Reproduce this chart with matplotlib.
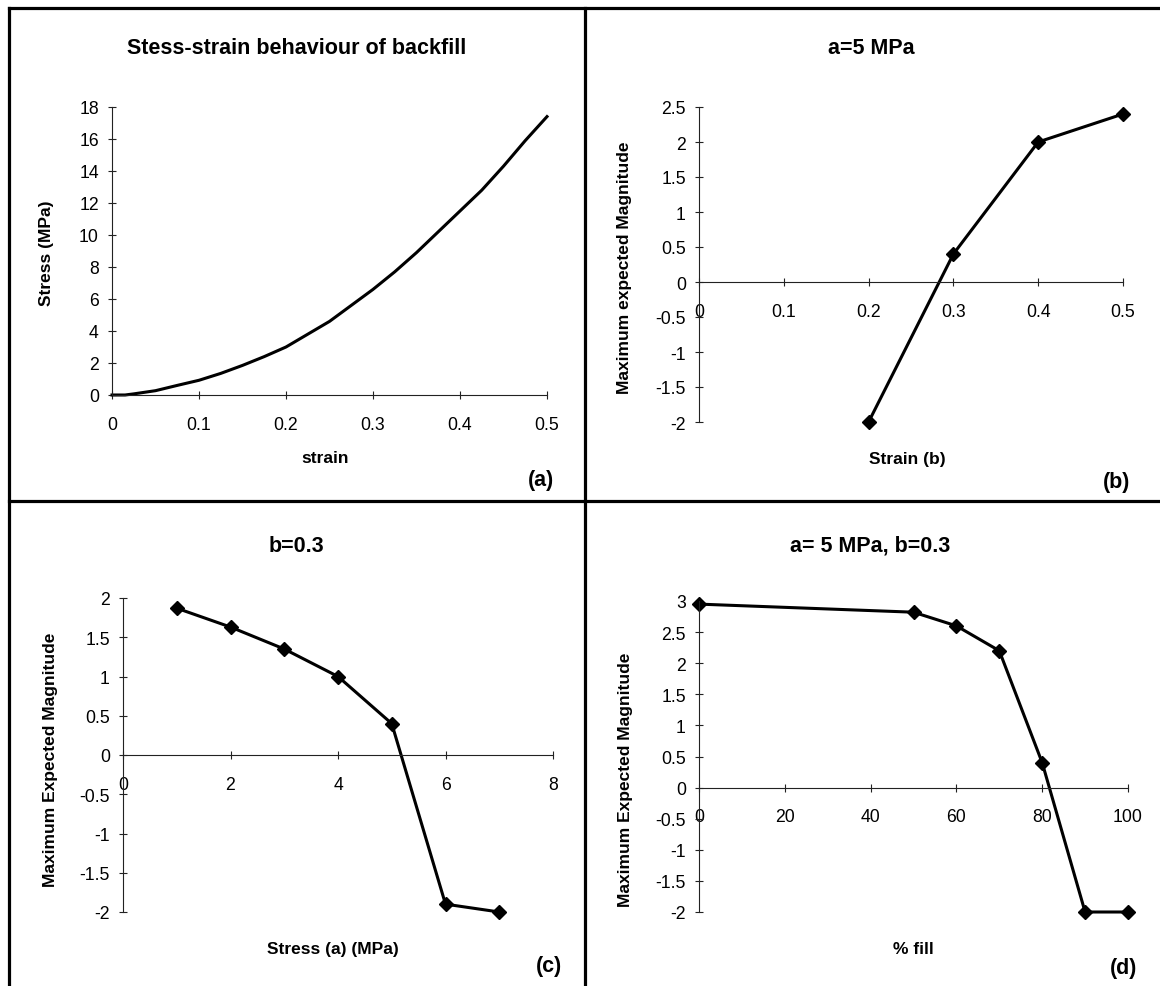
import matplotlib.pyplot as plt
from matplotlib.lines import Line2D
from matplotlib.ticker import MultipleLocator, FuncFormatter

plt.rcParams['font.family'] = ['Liberation Sans', 'DejaVu Sans']
plt.rcParams['axes.unicode_minus'] = False

W, H = 1160, 987

# (a) stress-strain curve of the backfill
strain = [0, 0.015, 0.025, 0.05, 0.075, 0.1, 0.125, 0.15, 0.175, 0.2, 0.225, 0.25,
          0.275, 0.3, 0.325, 0.35, 0.375, 0.4, 0.425, 0.45, 0.475, 0.5]
stress = [0, 0.0, 0.07, 0.27, 0.6, 0.92, 1.35, 1.85, 2.4, 3.0, 3.8, 4.6,
          5.6, 6.6, 7.7, 8.9, 10.2, 11.5, 12.8, 14.3, 15.9, 17.4]

# (b) a = 5 MPa
b_strain = [0.2, 0.3, 0.4, 0.5]
b_mag = [-2.0, 0.4, 2.0, 2.4]

# (c) b = 0.3
c_stress = [1, 2, 3, 4, 5, 6, 7]
c_mag = [1.87, 1.63, 1.35, 1.0, 0.4, -1.9, -2.0]

# (d) a = 5 MPa, b = 0.3
d_fill = [0, 50, 60, 70, 80, 90, 100]
d_mag = [2.95, 2.82, 2.6, 2.2, 0.4, -2.0, -2.0]

fig = plt.figure(figsize=(W / 100, H / 100), dpi=100)


def box(l, t, r, b):
    return [l / W, 1 - b / H, (r - l) / W, (b - t) / H]


def txt(x, y, s, **kw):
    fig.text(x / W, 1 - y / H, s, ha='center', va='center', **kw)


def excel_axes(ax, xlim, ylim, xstep, ystep, cross_zero):
    ax.set_xlim(*xlim)
    ax.set_ylim(*ylim)
    ax.patch.set_alpha(0)
    for s in ['top', 'right']:
        ax.spines[s].set_visible(False)
    for s in ['left', 'bottom']:
        ax.spines[s].set_linewidth(0.8)
        ax.spines[s].set_color('#222222')
    if cross_zero:
        ax.spines['bottom'].set_position(('data', 0))
    ax.xaxis.set_major_locator(MultipleLocator(xstep))
    ax.yaxis.set_major_locator(MultipleLocator(ystep))
    fmt = FuncFormatter(lambda v, _: f"{v:g}")
    ax.xaxis.set_major_formatter(fmt)
    ax.yaxis.set_major_formatter(fmt)
    ax.tick_params(direction='inout', length=6, width=0.8, color='#222222',
                   labelsize=12.7)
    ax.tick_params(axis='x', pad=12)
    ax.tick_params(axis='y', pad=6.5)


line_kw = dict(color='black', lw=2.2, clip_on=False)
mark_kw = dict(marker='D', ms=7, mfc='black', mec='black')

ax_a = fig.add_axes(box(112, 108, 547, 396))
excel_axes(ax_a, (0, 0.5), (0, 18), 0.1, 2, False)
ax_a.plot(strain, stress, **line_kw)

ax_b = fig.add_axes(box(699, 108, 1123, 423))
excel_axes(ax_b, (0, 0.5), (-2, 2.5), 0.1, 0.5, True)
ax_b.plot(b_strain, b_mag, **line_kw, **mark_kw)

ax_c = fig.add_axes(box(123, 599, 553, 913))
excel_axes(ax_c, (0, 8), (-2, 2), 2, 0.5, True)
ax_c.plot(c_stress, c_mag, **line_kw, **mark_kw)

ax_d = fig.add_axes(box(699, 602, 1128, 913))
excel_axes(ax_d, (0, 100), (-2, 3), 20, 0.5, True)
ax_d.plot(d_fill, d_mag, **line_kw, **mark_kw)

# titles, axis labels and panel letters
bold = dict(fontweight='bold')
txt(297, 48, 'Stess-strain behaviour of backfill', fontsize=15.5, **bold)
txt(871, 48, 'a=5 MPa', fontsize=15.5, **bold)
txt(296, 546, 'b=0.3', fontsize=15.5, **bold)
txt(870, 546, 'a= 5 MPa, b=0.3', fontsize=15.5, **bold)

txt(325, 459, 'strain', fontsize=12.5, **bold)
txt(907, 460, 'Strain (b)', fontsize=12.5, **bold)
txt(333, 950, 'Stress (a) (MPa)', fontsize=12.5, **bold)
txt(913, 950, '% fill', fontsize=12.5, **bold)

txt(47, 253, 'Stress (MPa)', fontsize=12.5, rotation=90, **bold)
txt(624, 268, 'Maximum expected Magnitude', fontsize=12.5, rotation=90, **bold)
txt(51, 760, 'Maximum Expected Magnitude', fontsize=12.5, rotation=90, **bold)
txt(625, 780, 'Maximum Expected Magnitude', fontsize=12.5, rotation=90, **bold)

txt(541, 481, '(a)', fontsize=15.5, **bold)
txt(1117, 483, '(b)', fontsize=15.5, **bold)
txt(549, 967, '(c)', fontsize=15.5, **bold)
txt(1124, 969, '(d)', fontsize=15.5, **bold)

# panel frame lines
frame = [((9, 9), (W, 9)), ((9, 9), (9, H)), ((585, 9), (585, H)),
         ((9, 502), (W, 502))]
for (x0, y0), (x1, y1) in frame:
    fig.add_artist(Line2D([x0 / W, x1 / W], [1 - y0 / H, 1 - y1 / H],
                          transform=fig.transFigure, color='black', lw=2.3,
                          solid_capstyle='projecting'))

fig.savefig('out.png', dpi=100)
